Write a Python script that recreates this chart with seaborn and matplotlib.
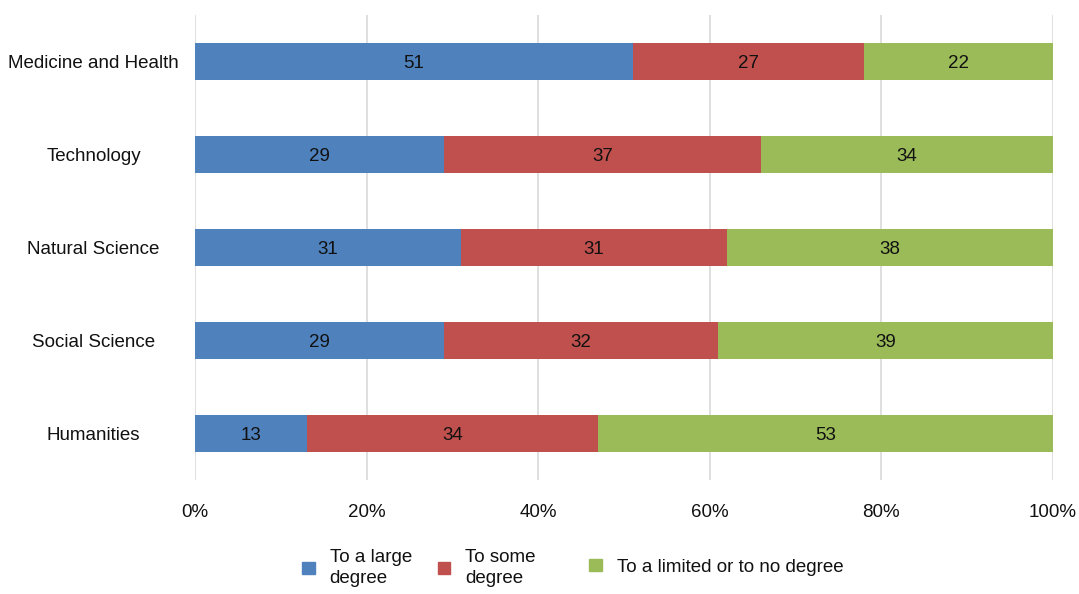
import matplotlib
matplotlib.use("Agg")
import matplotlib.pyplot as plt
import matplotlib.patches as mpatches
import numpy as np
import pandas as pd
import seaborn as sns

# Data
fields = ['Medicine and Health', 'Technology', 'Natural Science', 'Social Science', 'Humanities']
large = [51, 29, 31, 29, 13]
some = [27, 37, 31, 32, 34]
limited = [22, 34, 38, 39, 53]
series_names = ['To a large\ndegree', 'To some\ndegree', 'To a limited or to no degree']
colors = ['#4F81BD', '#C0504D', '#9BBB59']

sns.set_style('white')
plt.rcParams['font.family'] = ['Liberation Sans', 'DejaVu Sans']

df = pd.DataFrame({'field': fields, 'large': large, 'some': some, 'limited': limited})
df['c1'] = df['large']
df['c2'] = df['large'] + df['some']
df['c3'] = df['c2'] + df['limited']

fs = 13.5
fig = plt.figure(figsize=(10.79, 5.94), dpi=100)
ax = fig.add_axes([195 / 1079, 114 / 594, 858 / 1079, 465 / 594])

# stacked bars: draw cumulative totals back to front
for col, color in zip(['c3', 'c2', 'c1'], colors[::-1]):
    sns.barplot(data=df, x=col, y='field', color=color, width=0.39,
                saturation=1, ax=ax, orient='h', linewidth=0)

# segment labels
for i, row in df.iterrows():
    left = 0
    for v in [row['large'], row['some'], row['limited']]:
        ax.text(left + v / 2, i + 0.02, str(v), ha='center', va='center', fontsize=fs, color='#111111')
        left += v

ax.set_xlim(0, 100)
ax.set_ylim(4.5, -0.5)
ax.set_xticks(np.arange(0, 101, 20))
ax.set_xticklabels([f'{t}%' for t in range(0, 101, 20)])
ax.set_xlabel('')
ax.set_ylabel('')
ax.grid(axis='x', color='#d9d9d9', linewidth=1.2)
ax.set_axisbelow(True)
for s in ax.spines.values():
    s.set_visible(False)
ax.tick_params(axis='x', length=0, pad=17, labelsize=fs, labelcolor='#111111')
ax.tick_params(axis='y', length=0, pad=73, labelsize=fs, labelcolor='#111111')
for lbl in ax.get_yticklabels():
    lbl.set_horizontalalignment('center')

# legend split in two so the uneven gaps of the original are kept
handles = [mpatches.Patch(color=c, label=n) for c, n in zip(colors, series_names)]
leg_kw = dict(frameon=False, fontsize=fs, handlelength=0.65, handleheight=0.65,
              handletextpad=0.8, labelcolor='#111111', borderpad=0, loc='center left')
leg1 = fig.legend(handles=handles[:2], ncol=2, columnspacing=1.38,
                  bbox_to_anchor=(293 / 1079, 1 - 568 / 594), **leg_kw)
leg2 = fig.legend(handles=handles[2:], ncol=1,
                  bbox_to_anchor=(580 / 1079, 1 - 567 / 594), **leg_kw)
for t in leg1.get_texts():
    t.set_linespacing(1.25)

fig.savefig('out.png', dpi=100)
